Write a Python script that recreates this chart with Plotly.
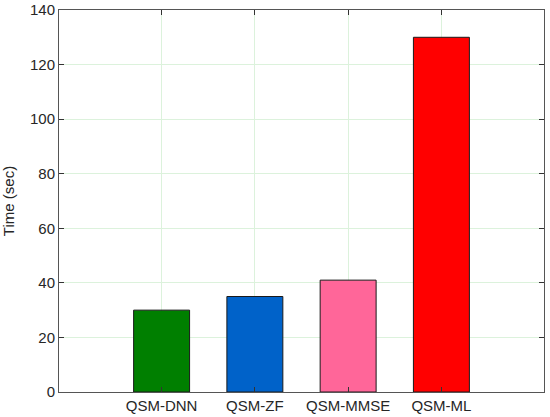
import plotly.graph_objects as go

# Detection schemes and their run time (sec)
methods = ["QSM-DNN", "QSM-ZF", "QSM-MMSE", "QSM-ML"]
times = [30, 35, 41, 130]
colors = ["#007f00", "#0062c9", "#ff6699", "#ff0000"]

y_ticks = [0, 20, 40, 60, 80, 100, 120, 140]

positions = list(range(1, len(methods) + 1))

fig = go.Figure()
fig.add_trace(go.Bar(
    x=positions,
    y=times,
    width=0.6,
    marker=dict(color=colors, line=dict(color="#1a1a1a", width=1)),
    showlegend=False,
))

axis_style = dict(
    automargin=False,
    showline=True,
    linecolor="#555555",
    linewidth=1,
    mirror="ticks",
    ticks="inside",
    ticklen=5,
    tickcolor="#333333",
    showgrid=True,
    gridcolor="#dcf2dc",
    gridwidth=1,
    zeroline=False,
    tickfont=dict(family="Liberation Sans, Arial, sans-serif", size=15, color="#262626"),
)

fig.update_xaxes(
    range=[-0.1, 5.1],
    tickvals=positions,
    ticktext=methods,
    **axis_style,
)
fig.update_yaxes(
    range=[0, 140],
    tickvals=y_ticks,
    title=dict(text="Time (sec)",
               font=dict(family="Liberation Sans, Arial, sans-serif", size=15, color="#262626")),
    **axis_style,
)

fig.update_layout(
    width=550,
    height=417,
    margin=dict(l=59, r=6, t=10, b=25),
    plot_bgcolor="white",
    paper_bgcolor="white",
)

# drop the page's default body margin so the figure sits at the top-left corner
fig.write_html("out.html", config={"displayModeBar": False},
               post_script="document.body.style.margin='0px';")
